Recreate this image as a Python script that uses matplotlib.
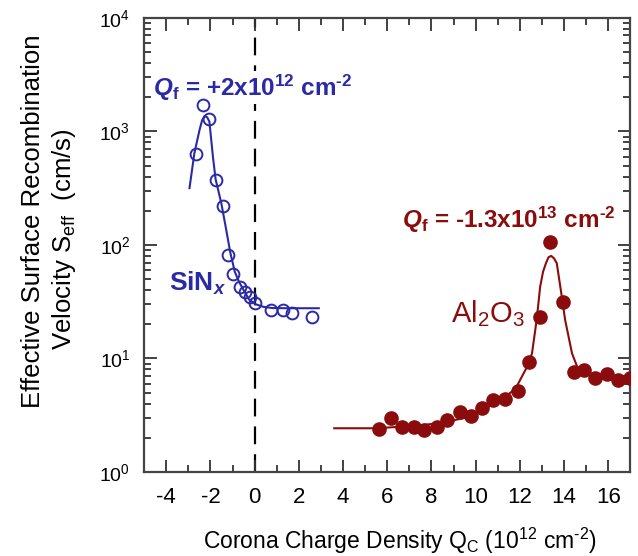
import numpy as np
import matplotlib
matplotlib.use("Agg")
import matplotlib.pyplot as plt
from matplotlib.ticker import LogLocator, FixedLocator, LogFormatterMathtext

# fonts: Arial-like everywhere, mathtext too
plt.rcParams['font.family'] = ['Liberation Sans', 'DejaVu Sans']
plt.rcParams['mathtext.fontset'] = 'custom'
plt.rcParams['mathtext.rm'] = 'Liberation Sans'
plt.rcParams['mathtext.it'] = 'Liberation Sans:italic'
plt.rcParams['mathtext.bf'] = 'Liberation Sans:bold'
plt.rcParams['mathtext.bfit'] = 'Liberation Sans:italic:bold'
plt.rcParams['axes.unicode_minus'] = False

BLUE = '#2a2aa6'
RED = '#8a0c0c'

# SiNx measured points (open circles)
sin_q = [-2.65, -2.35, -2.08, -1.77, -1.45, -1.21, -0.99, -0.68, -0.45, -0.23, 0.0, 0.76, 1.26, 1.67, 2.6]
sin_s = [630, 1700, 1280, 374, 220, 82, 56, 43, 38.5, 34.5, 30.5, 26.5, 26.5, 25, 23]

# SiNx fit curve
sin_fit_q = [-2.95, -2.73, -2.5, -2.38, -2.27, -2.15, -2.05, -1.89, -1.77, -1.51, -1.3, -1.1,
             -0.9, -0.7, -0.5, -0.25, 0.05, 0.4, 0.8, 1.5, 2.9]
sin_fit_s = [316, 640, 1020, 1250, 1360, 1330, 1220, 600, 380, 233, 140, 85,
             58, 47, 40, 33, 30, 28.5, 27.8, 27.7, 27.7]

# Al2O3 measured points (filled circles)
al_q = [5.64, 6.17, 6.67, 7.20, 7.68, 8.23, 8.71, 9.29, 9.80, 10.30, 10.80, 11.32, 11.90, 12.40,
        12.92, 13.38, 13.94, 14.47, 14.92, 15.41, 15.95, 16.44, 16.97]
al_s = [2.38, 2.97, 2.51, 2.51, 2.34, 2.51, 2.87, 3.40, 3.11, 3.64, 4.31, 4.37, 5.2, 9.25,
        23.1, 107, 31.7, 7.65, 7.9, 6.7, 7.3, 6.45, 6.7]

# Al2O3 fit curve
al_fit_q = [3.6, 5.5, 6.5, 7.5, 8.5, 9.5, 10.5, 11.2, 11.8, 12.4, 12.55, 12.76, 12.92, 13.05,
            13.18, 13.3, 13.42, 13.55, 13.67, 13.83, 14.05, 14.36, 14.59, 14.8, 15.5, 16.5, 17.0]
al_fit_s = [2.43, 2.43, 2.5, 2.58, 2.72, 3.0, 3.7, 4.4, 5.4, 9.0, 11.1, 21.8, 43, 58,
            69, 78, 80, 76, 69, 43, 21.8, 11.1, 8.5, 7.6, 7.2, 6.9, 6.8]

x_ticks = [-4, -2, 0, 2, 4, 6, 8, 10, 12, 14, 16]

fig = plt.figure(figsize=(6.38, 5.56), dpi=100)
ax = fig.add_axes([0.226, 0.151, 0.762, 0.817])

# zero-charge reference line
ax.axvline(0, color='black', lw=1.6, dashes=(8, 4.5), zorder=1)

ax.plot(sin_fit_q, sin_fit_s, color=BLUE, lw=1.5, zorder=3)
ax.plot(sin_q, sin_s, 'o', mfc='none', mec=BLUE, mew=1.4, ms=8.5, zorder=4)

ax.plot(al_fit_q, al_fit_s, color=RED, lw=1.5, zorder=3)
ax.plot(al_q, al_s, 'o', color=RED, ms=9.5, zorder=4)

ax.set_yscale('log')
ax.set_ylim(1, 1e4)
ax.set_xlim(-5, 17)

ax.xaxis.set_major_locator(FixedLocator(x_ticks))
ax.xaxis.set_minor_locator(FixedLocator(range(-5, 18, 2)))
ax.yaxis.set_major_locator(LogLocator(base=10, numticks=10))
ax.yaxis.set_minor_locator(LogLocator(base=10, subs=np.arange(2, 10), numticks=10))
ax.yaxis.set_major_formatter(LogFormatterMathtext())
ax.tick_params(which='both', direction='in', top=True, right=True, color='#333333', width=1.3)
ax.tick_params(which='major', length=9)
ax.tick_params(which='minor', length=5)
ax.tick_params(axis='x', which='major', labelsize=16, pad=11)
ax.tick_params(axis='y', which='major', labelsize=14, pad=10)
for sp in ax.spines.values():
    sp.set_linewidth(1.6)
    sp.set_color('#444444')

ax.text(0.527, -0.152, r'Corona Charge Density Q$_\mathregular{C}$ (10$^{\mathregular{12}}$ cm$^{\mathregular{‐2}}$)',
        transform=ax.transAxes, fontsize=16.5, ha='center', va='center')
# y label: two separate lines, as in the original
ax.text(-0.228, 0.553, 'Effective Surface Recombination', transform=ax.transAxes,
        fontsize=18.5, rotation=90, ha='center', va='center')
ax.text(-0.165, 0.513, r'Velocity S$_{\mathregular{eff}}$  (cm/s)', transform=ax.transAxes,
        fontsize=18.5, rotation=90, ha='center', va='center')

ax.text(-4.6, 2420, r'$\mathbfit{Q}_{\mathbf{f}}$ = +2x10$^{\mathbf{12}}$ cm$^{\mathbf{‐2}}$',
        color=BLUE, fontsize=17.5, fontweight='bold', va='center', ha='left', zorder=2,
        bbox=dict(facecolor='white', edgecolor='none', pad=1))
ax.text(-3.86, 46, r'SiN$_{\mathbfit{x}}$', color=BLUE, fontsize=19, fontweight='bold',
        va='center', ha='left')
ax.text(6.67, 166, r'$\mathbfit{Q}_{\mathbf{f}}$ = -1.3x10$^{\mathbf{13}}$ cm$^{\mathbf{‐2}}$',
        color=RED, fontsize=17.5, fontweight='bold', va='center', ha='left')
ax.text(8.9, 25, r'Al$_\mathregular{2}$O$_\mathregular{3}$', color=RED, fontsize=21,
        va='center', ha='left')

fig.savefig('out.png', dpi=100)
